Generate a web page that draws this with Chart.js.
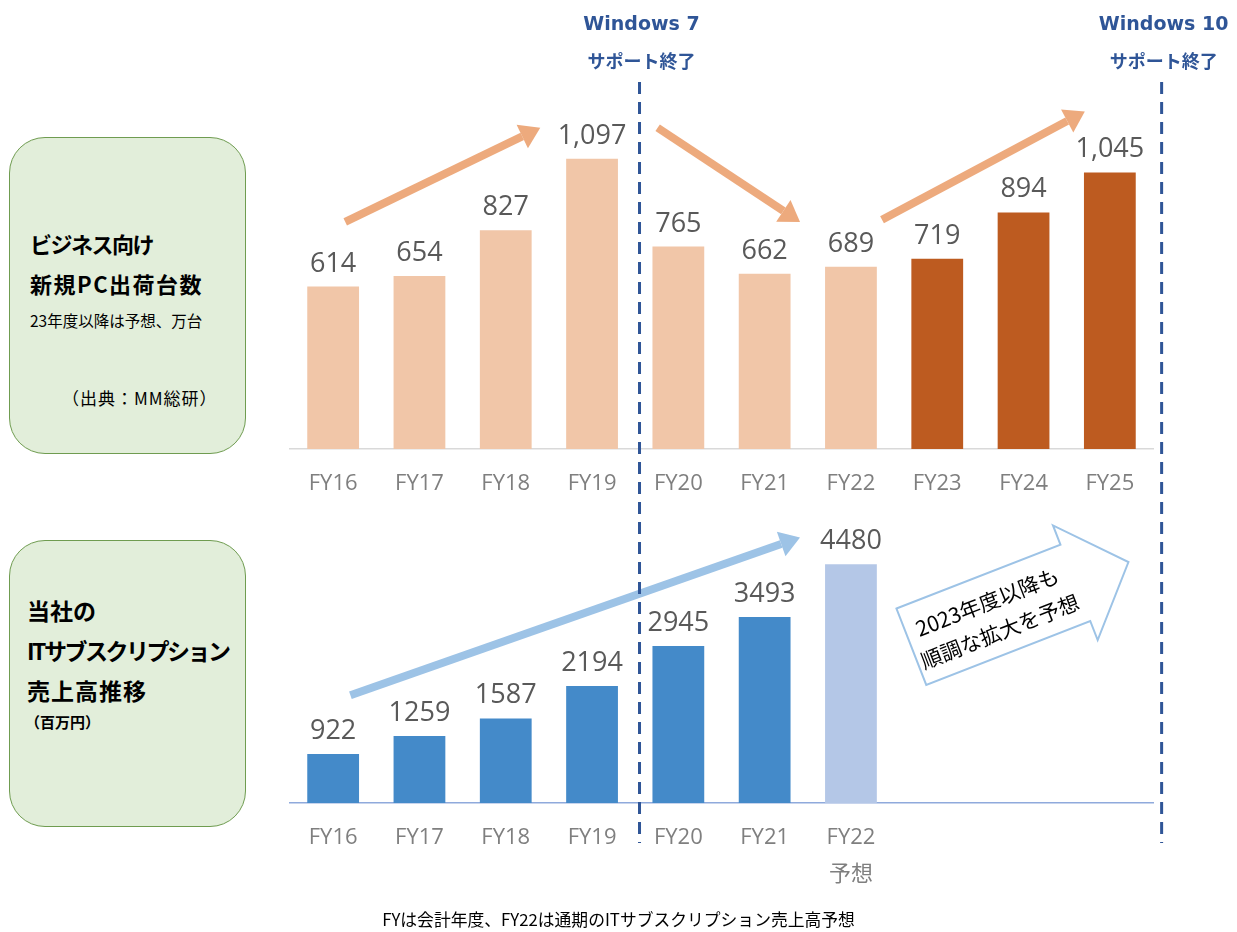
<!DOCTYPE html>
<html>
<head>
<meta charset="utf-8">
<script src="https://cdn.jsdelivr.net/npm/chart.js@4"></script>
<style>
    body { margin: 0; background: #fff; width: 1237px; height: 932px; position: relative; overflow: hidden; font-family: "Noto Sans CJK JP", sans-serif; color: #000; }
    canvas { position: absolute; left: 0; }
    #pcChart { top: 0; }
    #subsChart { top: 500px; }
    #overlay { top: 0; pointer-events: none; }
    .box { position: absolute; left: 9px; width: 237px; background: #E2EEDA; border: 1.5px solid #6F9C50; border-radius: 36px; box-sizing: border-box; }
    .t { position: absolute; line-height: 1; white-space: nowrap; }
    .b { font-weight: 700; }
    #footer { position: absolute; left: 0; width: 1237px; top: 911px; text-align: center; font-size: 16.8px; line-height: 1; }
</style>
</head>
<body>

<div class="box" style="top:137px;height:317px"></div>
<div class="t b" style="left:30px;top:232px;font-size:22px;letter-spacing:-1.5px">ビジネス向け</div>
<div class="t b" style="left:30px;top:272px;font-size:22px;letter-spacing:1.5px">新規PC出荷台数</div>
<div class="t" style="left:30px;top:313px;font-size:15.5px">23年度以降は予想、万台</div>
<div class="t" style="left:62px;top:389px;font-size:17px;letter-spacing:1px">（出典：MM総研）</div>

<div class="box" style="top:540px;height:287px"></div>
<div class="t b" style="left:27px;top:599px;font-size:23px">当社の</div>
<div class="t b" style="left:27px;top:639px;font-size:23px;letter-spacing:-2.5px">ITサブスクリプション</div>
<div class="t b" style="left:27px;top:679px;font-size:23px;letter-spacing:1px">売上高推移</div>
<div class="t b" style="left:25px;top:714px;font-size:15px">（百万円）</div>

<canvas id="pcChart" width="1237" height="500"></canvas>
<canvas id="subsChart" width="1237" height="432"></canvas>
<canvas id="overlay" width="1237" height="932"></canvas>

<div id="footer">FYは会計年度、FY22は通期のITサブスクリプション売上高予想</div>

<script>
// Business PC shipments (10k units), FY23 onward is forecast
const pcYears = ['FY16', 'FY17', 'FY18', 'FY19', 'FY20', 'FY21', 'FY22', 'FY23', 'FY24', 'FY25'];
const pcShipments = [614, 654, 827, 1097, 765, 662, 689, 719, 894, 1045];
const pcForecastFrom = 7;

// IT subscription revenue (million yen), FY22 is forecast
const subsYears = ['FY16', 'FY17', 'FY18', 'FY19', 'FY20', 'FY21', ['FY22', '予想'], '', '', ''];
const subsRevenue = [922, 1259, 1587, 2194, 2945, 3493, 4480];
const subsForecastFrom = 6;

// trend arrows: [fromIndex, fromValue, toIndex, toValue]
const pcTrendArrows = [[0.14, 858, 2.4, 1214], [3.76, 1214, 5.41, 858], [6.36, 866, 8.71, 1275]];
const subsTrendArrow = [0.2, 2024, 5.41, 4986];

// support-end markers (category position on the x axis)
const supportEnds = [
    { pos: 3.55, title: 'Windows 7' },
    { pos: 9.6, title: 'Windows 10' }
];

const numFont = '"Open Sans", "Noto Sans CJK JP", sans-serif';

function drawArrow(ctx, x1, y1, x2, y2, color, w, headLen, headW) {
    const ang = Math.atan2(y2 - y1, x2 - x1);
    const bx = x2 - headLen * Math.cos(ang);
    const by = y2 - headLen * Math.sin(ang);
    ctx.strokeStyle = color;
    ctx.lineWidth = w;
    ctx.beginPath();
    ctx.moveTo(x1, y1);
    ctx.lineTo(bx, by);
    ctx.stroke();
    ctx.fillStyle = color;
    ctx.beginPath();
    ctx.moveTo(x2, y2);
    ctx.lineTo(bx + headW / 2 * Math.sin(ang), by - headW / 2 * Math.cos(ang));
    ctx.lineTo(bx - headW / 2 * Math.sin(ang), by + headW / 2 * Math.cos(ang));
    ctx.closePath();
    ctx.fill();
}

// value text above each bar
const valueLabels = {
    id: 'valueLabels',
    afterDatasetsDraw(chart, args, opts) {
        const ctx = chart.ctx;
        const ds = chart.data.datasets[0].data;
        ctx.save();
        ctx.font = '27px ' + numFont;
        ctx.fillStyle = '#595959';
        ctx.textAlign = 'center';
        ctx.textBaseline = 'alphabetic';
        chart.getDatasetMeta(0).data.forEach((bar, i) => {
            const v = ds[i];
            if (v == null) return;
            const txt = opts.comma ? v.toLocaleString('en-US') : String(v);
            ctx.fillText(txt, bar.x, bar.y - 15);
        });
        ctx.restore();
    }
};

// arrows drawn from the chart's own scales
const trendArrows = {
    id: 'trendArrows',
    afterDatasetsDraw(chart) {
        const ctx = chart.ctx;
        const x = chart.scales.x, y = chart.scales.y;
        ctx.save();
        if (chart.canvas.id === 'pcChart') {
            pcTrendArrows.forEach(a => {
                drawArrow(ctx, x.getPixelForValue(a[0]), y.getPixelForValue(a[1]),
                    x.getPixelForValue(a[2]), y.getPixelForValue(a[3]), '#EDAA7D', 8, 20, 26);
            });
        } else {
            const a = subsTrendArrow;
            drawArrow(ctx, x.getPixelForValue(a[0]), y.getPixelForValue(a[1]),
                x.getPixelForValue(a[2]), y.getPixelForValue(a[3]), '#9DC3E6', 8, 20, 26);

            // outlined block arrow with forecast note
            const ox = x.getPixelForValue(6.7), oy = y.getPixelForValue(2934);
            ctx.translate(ox, oy);
            ctx.rotate(-21.3 * Math.PI / 180);
            ctx.beginPath();
            ctx.moveTo(0, -41);
            ctx.lineTo(176, -41);
            ctx.lineTo(176, -61.5);
            ctx.lineTo(233, 0);
            ctx.lineTo(176, 61.5);
            ctx.lineTo(176, 41);
            ctx.lineTo(0, 41);
            ctx.closePath();
            ctx.fillStyle = '#fff';
            ctx.fill();
            ctx.strokeStyle = '#9DC3E6';
            ctx.lineWidth = 2;
            ctx.stroke();
            ctx.fillStyle = '#000';
            ctx.font = '21px "Noto Sans CJK JP", sans-serif';
            ctx.textAlign = 'center';
            ctx.textBaseline = 'middle';
            ctx.fillText('2023年度以降も', 87, -14);
            ctx.fillText('順調な拡大を予想', 88, 18);
        }
        ctx.restore();
    }
};

function xAxis(height, borderColor) {
    return {
        grid: { display: false, drawTicks: false },
        border: { display: true, color: borderColor, width: 1.5 },
        ticks: {
            color: '#7F7F7F',
            font: { family: numFont, size: 22, lineHeight: 1.7 },
            padding: 16,
            maxRotation: 0,
            autoSkip: false
        },
        afterFit(s) { s.height = height; }
    };
}

const pcChart = new Chart(document.getElementById('pcChart').getContext('2d'), {
    type: 'bar',
    data: {
        labels: pcYears,
        datasets: [{
            data: pcShipments,
            backgroundColor: pcShipments.map((v, i) => i >= pcForecastFrom ? '#BD5B20' : '#F1C6A8'),
            categoryPercentage: 0.6,
            barPercentage: 1
        }]
    },
    options: {
        responsive: false,
        animation: false,
        layout: { padding: { left: 290, right: 84, top: 105, bottom: 0 } },
        plugins: { legend: { display: false }, tooltip: { enabled: false }, valueLabels: { comma: true } },
        scales: {
            x: xAxis(51, '#D9D9D9'),
            y: { display: false, min: 0, max: 1300 }
        }
    },
    plugins: [valueLabels, trendArrows]
});

const subsChart = new Chart(document.getElementById('subsChart').getContext('2d'), {
    type: 'bar',
    data: {
        labels: subsYears,
        datasets: [{
            data: subsRevenue,
            backgroundColor: subsRevenue.map((v, i) => i >= subsForecastFrom ? '#B4C7E7' : '#448AC9'),
            categoryPercentage: 0.6,
            barPercentage: 1
        }]
    },
    options: {
        responsive: false,
        animation: false,
        layout: { padding: { left: 290, right: 84, top: 10, bottom: 0 } },
        plugins: { legend: { display: false }, tooltip: { enabled: false }, valueLabels: { comma: false } },
        scales: {
            x: xAxis(129, '#8FAADC'),
            y: { display: false, min: 0, max: 5500 }
        }
    },
    plugins: [valueLabels, trendArrows]
});

// dashed support-end lines and their titles, across both charts
const ov = document.getElementById('overlay').getContext('2d');
supportEnds.forEach(m => {
    const px = pcChart.scales.x.getPixelForValue(m.pos);
    ov.save();
    ov.strokeStyle = '#2F5597';
    ov.lineWidth = 3;
    ov.setLineDash([12, 8]);
    ov.beginPath();
    ov.moveTo(px, 82);
    ov.lineTo(px, 843);
    ov.stroke();
    ov.setLineDash([]);
    ov.fillStyle = '#2F5597';
    ov.textAlign = 'center';
    ov.textBaseline = 'middle';
    ov.font = 'bold 19px "DejaVu Sans", sans-serif';
    ov.fillText(m.title, px + 2, 25);
    ov.font = 'bold 18px "Noto Sans CJK JP", sans-serif';
    ov.fillText('サポート終了', px + 2, 61);
    ov.restore();
});
</script>
</body>
</html>
